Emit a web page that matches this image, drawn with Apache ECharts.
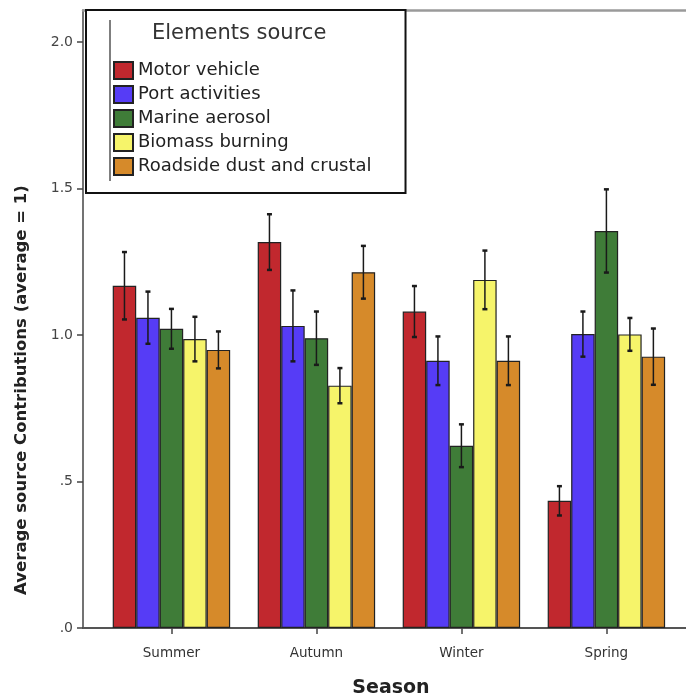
<!DOCTYPE html>
<html><head><meta charset="utf-8">
<script src="https://cdn.jsdelivr.net/npm/echarts@6/dist/echarts.min.js"></script>
<style>html,body{margin:0;padding:0;background:#fff}#c{width:686px;height:697px}</style>
</head><body><div id="c"></div>
<script>
const seasons = ['Summer', 'Autumn', 'Winter', 'Spring'];
const sources = ['Motor vehicle', 'Port activities', 'Marine aerosol', 'Biomass burning', 'Roadside dust and crustal'];
const motorVehicle = [1.168, 1.317, 1.080, 0.434];
const portActivities = [1.059, 1.031, 0.912, 1.003];
const marineAerosol = [1.021, 0.989, 0.622, 1.355];
const biomassBurning = [0.986, 0.827, 1.188, 1.002];
const roadsideDust = [0.949, 1.214, 0.912, 0.926];
const motorVehicleErr = [0.115, 0.095, 0.087, 0.050];
const portActivitiesErr = [0.089, 0.121, 0.083, 0.077];
const marineAerosolErr = [0.068, 0.091, 0.073, 0.142];
const biomassBurningErr = [0.076, 0.060, 0.100, 0.056];
const roadsideDustErr = [0.063, 0.090, 0.083, 0.096];
const yTicks = [0, 0.5, 1, 1.5, 2];
const yTickLabels = ['.0', '.5', '1.0', '1.5', '2.0'];

const values = [motorVehicle, portActivities, marineAerosol, biomassBurning, roadsideDust];
const errors = [motorVehicleErr, portActivitiesErr, marineAerosolErr, biomassBurningErr, roadsideDustErr];
const colors = ['#C1282E', '#563CF6', '#3F7C38', '#F6F46A', '#D68A2A'];
const barFrac = 0.162;
const seasonIdx = seasons.map((s, i) => i);

function makeErr(k) {
  return function (params, api) {
    const x = api.value(0), m = api.value(1), e = api.value(2);
    const bw = api.size([1, 0])[0] * barFrac;
    const cx = api.coord([x, m])[0] + (k - 2) * bw;
    const yt = api.coord([x, m + e])[1], yb = api.coord([x, m - e])[1];
    const cap = 2.5;
    return { type: 'group', children: [
      { type: 'line', shape: { x1: cx, y1: yt, x2: cx, y2: yb }, style: { stroke: '#1a1a1a', lineWidth: 1.5 } },
      { type: 'line', shape: { x1: cx - cap, y1: yt, x2: cx + cap, y2: yt }, style: { stroke: '#1a1a1a', lineWidth: 2.5 } },
      { type: 'line', shape: { x1: cx - cap, y1: yb, x2: cx + cap, y2: yb }, style: { stroke: '#1a1a1a', lineWidth: 2.5 } }
    ]};
  };
}

const series = [];
sources.forEach((name, k) => {
  series.push({
    name: name, type: 'bar',
    data: seasonIdx.map(i => [i, values[k][i]]),
    barWidth: (barFrac * 100) + '%', barGap: '0%',
    itemStyle: { color: colors[k], borderColor: '#222', borderWidth: 1.2 },
    z: 2
  });
});
sources.forEach((name, k) => {
  series.push({
    name: 'err' + k, type: 'custom',
    data: seasonIdx.map(i => [i, values[k][i], errors[k][i]]),
    encode: { x: 0, y: 1 },
    renderItem: makeErr(k), z: 5, silent: true
  });
});

const xMin = -0.61, xMax = 3.549;
const chart = echarts.init(document.getElementById('c'), null, { renderer: 'canvas' });
chart.setOption({
  animation: false,
  backgroundColor: '#fff',
  grid: { left: 83, right: 0, top: 10, bottom: 69, show: false },
  xAxis: [{
    type: 'value', min: xMin, max: xMax,
    splitLine: { show: false },
    axisLine: { show: true, onZero: false, lineStyle: { color: '#555', width: 2 } },
    axisTick: { show: true, customValues: seasonIdx, length: 6, lineStyle: { color: '#444', width: 1.5 } },
    axisLabel: { customValues: seasonIdx, formatter: v => seasons[Math.round(v)], margin: 18,
      fontFamily: 'DejaVu Sans', fontSize: 13.5, color: '#333' }
  }, {
    type: 'value', position: 'top', min: xMin, max: xMax,
    splitLine: { show: false },
    axisLine: { show: true, onZero: false, lineStyle: { color: '#9a9a9a', width: 2.5 } },
    axisTick: { show: false }, axisLabel: { show: false }
  }],
  yAxis: {
    type: 'value', min: 0, max: 2.109,
    splitLine: { show: false },
    axisLine: { show: true, onZero: false, lineStyle: { color: '#444', width: 1.5 } },
    axisTick: { show: true, customValues: yTicks, length: 6, lineStyle: { color: '#444', width: 1.5 } },
    axisLabel: { customValues: yTicks, formatter: v => yTickLabels[yTicks.indexOf(v)], margin: 10,
      fontFamily: 'DejaVu Sans', fontSize: 14, color: '#444' }
  },
  legend: {
    data: sources, orient: 'vertical', left: 86, top: 10,
    padding: [51, 34, 17, 27], itemWidth: 19, itemHeight: 17, itemGap: 5,
    icon: 'rect', backgroundColor: '#fff', borderColor: '#111', borderWidth: 2, z: 8,
    textStyle: { fontFamily: 'DejaVu Sans', fontSize: 18, color: '#222', lineHeight: 17 }
  },
  title: {
    text: 'Elements source', left: 152, top: 23, padding: 0, z: 12,
    textStyle: { fontFamily: 'DejaVu Sans', fontSize: 21, fontWeight: 'normal', color: '#333' }
  },
  graphic: [
    { type: 'line', z: 100, shape: { x1: 110, y1: 20, x2: 110, y2: 181 }, style: { stroke: '#555', lineWidth: 1.5 } },
    { type: 'text', z: 100, x: 22, y: 390, rotation: Math.PI / 2,
      style: { text: 'Average source Contributions (average = 1)', fontFamily: 'DejaVu Sans', fontWeight: 'bold', fontSize: 16.5, fill: '#222', align: 'center', verticalAlign: 'middle' } },
    { type: 'text', z: 100, x: 391, y: 688,
      style: { text: 'Season', fontFamily: 'DejaVu Sans', fontWeight: 'bold', fontSize: 19, fill: '#222', align: 'center', verticalAlign: 'middle' } }
  ],
  series: series
});
</script>
</body></html>
